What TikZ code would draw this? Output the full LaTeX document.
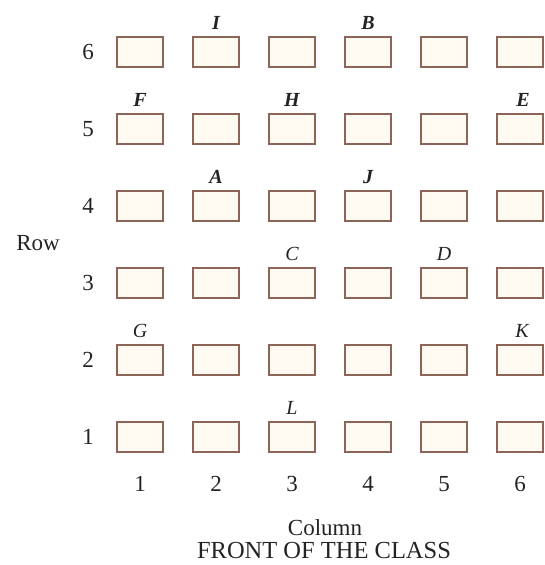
\documentclass[tikz,border=0pt]{standalone}
\usepackage{fontspec}
\setmainfont{Liberation Serif}
\definecolor{seatedge}{RGB}{140,100,88}
\definecolor{seatfill}{RGB}{255,250,242}
\definecolor{ink}{RGB}{35,35,35}
\begin{document}
\begin{tikzpicture}[x=1pt,y=-1pt,
  seat/.style={draw=seatedge,fill=seatfill,line width=1.4pt,minimum width=46pt,minimum height=30pt,inner sep=0pt},
  txt/.style={text=ink,font=\fontsize{23}{26}\selectfont,inner sep=0pt},
  lett/.style={text=ink,font=\fontsize{20}{22}\selectfont\itshape,inner sep=0pt,anchor=base},
  lettb/.style={text=ink,font=\fontsize{20}{22}\selectfont\bfseries\itshape,inner sep=0pt,anchor=base}]
\useasboundingbox (0,0) rectangle (544,565);
\foreach \c in {1,...,6}{
  \foreach \r in {1,...,6}{
    \pgfmathsetmacro{\xx}{140+76*(\c-1)}
    \pgfmathsetmacro{\yy}{437-77*(\r-1)}
    \node[seat] (s\c\r) at (\xx,\yy) {};
  }
}
% row numbers
\foreach \r in {1,...,6}{
  \node[txt] (r\r) at (88,{437-77*(\r-1)}) {\r};
}
% column numbers
\foreach \c in {1,...,6}{
  \node[txt] (c\c) at ({140+76*(\c-1)},484) {\c};
}
\node[txt] (rowlbl) at (38,243) {Row};
\node[txt] (collbl) at (325,528) {Column};
\node[txt,font=\fontsize{24.5}{26}\selectfont] (front) at (324,551) {FRONT OF THE CLASS};
% student letters
\node[lettb] (I) at ([yshift=7pt]s26.north) {I};
\node[lettb] (B) at ([yshift=7pt]s46.north) {B};
\node[lettb] (F) at ([yshift=7pt]s15.north) {F};
\node[lettb] (H) at ([yshift=7pt]s35.north) {H};
\node[lettb] (E) at ([xshift=3pt,yshift=7pt]s65.north) {E};
\node[lettb] (A) at ([yshift=7pt]s24.north) {A};
\node[lettb] (J) at ([yshift=7pt]s44.north) {J};
\node[lett] (C) at ([yshift=7pt]s33.north) {C};
\node[lett] (D) at ([yshift=7pt]s53.north) {D};
\node[lett] (G) at ([yshift=7pt]s12.north) {G};
\node[lett] (K) at ([xshift=2pt,yshift=7pt]s62.north) {K};
\node[lett] (L) at ([yshift=7pt]s31.north) {L};
\end{tikzpicture}
\end{document}
